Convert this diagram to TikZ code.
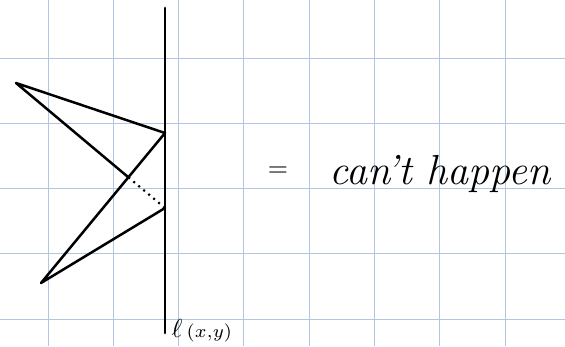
\documentclass[tikz,border=0pt]{standalone}
\usepackage{amsmath,amssymb}
\usepackage{tikz}
\usetikzlibrary{calc}
\usepackage{xcolor}
\definecolor{gridblue}{RGB}{180,197,228}

\begin{document}
\begin{tikzpicture}[x=1pt, y=-1pt,
    gridline/.style={gridblue, line width=1pt},
    stroke/.style={line width=2.5pt, line cap=round, line join=round}]
  \useasboundingbox (0,0) rectangle (565,346);
  % background grid
  \foreach \i in {0,...,7} {
    \draw[gridline] ({48+65.3*\i},0) -- ({48+65.3*\i},346);
  }
  \foreach \j in {0,...,4} {
    \draw[gridline] (0,{58+65.3*\j}) -- (565,{58+65.3*\j});
  }
  % the line l(x,y)
  \coordinate (top) at (165,8);
  \coordinate (bot) at (165,333);
  \draw[stroke, line width=2.8pt] (top) -- (bot);
  \node[anchor=west, inner sep=0pt, scale=2.6] (lname) at (171,331)
    {$\ell\,{\scriptstyle(x,y)}$};
  % the two triangles
  \coordinate (A) at (16,83);
  \coordinate (B) at (165,133);
  \coordinate (C) at (41,283);
  \coordinate (D) at (165,208);
  \coordinate (E) at (intersection of A--D and B--C);
  \draw[stroke] (E) -- (A) -- (B) -- (C) -- (D);
  \draw[line width=2.2pt, dash pattern=on 2pt off 4.5pt] (E) -- (D);
  % text
  \node[inner sep=0pt, scale=2.6] (eq) at (278,172) {$=$};
  \node[anchor=base west, inner sep=0pt] (cant) at (329,184)
    {\fontsize{42}{47}\selectfont\itshape can't happen};
\end{tikzpicture}
\end{document}
